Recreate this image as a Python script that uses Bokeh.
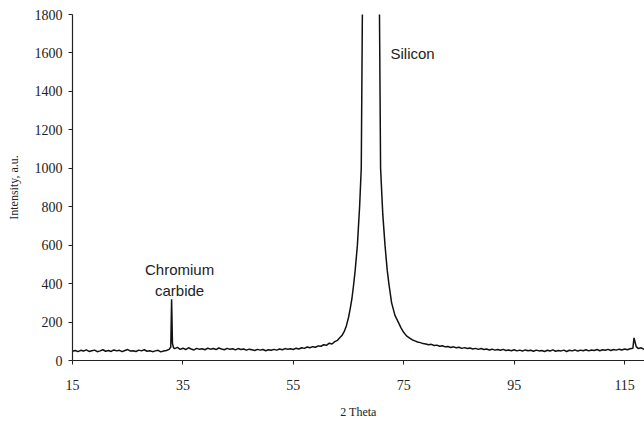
from bokeh.plotting import figure
from bokeh.models import Label, FixedTicker, Range1d
from bokeh.embed import file_html
from bokeh.resources import INLINE

# ---- data ----
two_theta = [
    15.0, 15.5, 16.0, 16.5, 17.0, 17.5, 18.0, 18.5, 19.0, 19.5,
    20.0, 20.5, 21.0, 21.5, 22.0, 22.5, 23.0, 23.5, 24.0, 24.5,
    25.0, 25.5, 26.0, 26.5, 27.0, 27.5, 28.0, 28.5, 29.0, 29.5,
    30.0, 30.5, 31.0, 31.5, 32.0, 32.5,
    32.8, 32.95, 33.1, 33.3,
    33.5, 34.0, 34.5, 35.0, 35.5, 36.0, 36.5, 37.0, 37.5, 38.0,
    38.5, 39.0, 39.5, 40.0, 40.5, 41.0, 41.5, 42.0, 42.5, 43.0,
    43.5, 44.0, 44.5, 45.0, 45.5, 46.0, 46.5, 47.0, 47.5, 48.0,
    48.5, 49.0, 49.5, 50.0, 50.5, 51.0, 51.5, 52.0, 52.5, 53.0,
    53.5, 54.0, 54.5, 55.0, 55.5, 56.0, 56.5, 57.0, 57.5, 58.0,
    58.5, 59.0, 59.5, 60.0, 60.5, 61.0, 61.5, 62.0, 62.5, 63.0,
    63.4, 63.8, 64.2, 64.6, 65.0, 65.3, 65.6, 65.9, 66.2, 66.6,
    67.0, 67.3, 67.5, 67.8, 68.4, 69.0, 69.6, 70.2, 70.6, 70.8,
    71.2, 71.6, 72.0, 72.3, 72.8, 73.4, 74.0, 74.5, 74.9, 75.5,
    76.0, 76.5, 77.0, 77.5, 78.0, 78.5, 79.0, 79.5, 80.0, 80.5,
    81.0, 81.5, 82.0, 82.5, 83.0, 83.5, 84.0, 84.5, 85.0, 85.5,
    86.0, 86.5, 87.0, 87.5, 88.0, 88.5, 89.0, 89.5, 90.0, 90.5,
    91.0, 91.5, 92.0, 92.5, 93.0, 93.5, 94.0, 94.5, 95.0, 95.5,
    96.0, 96.5, 97.0, 97.5, 98.0, 98.5, 99.0, 99.5, 100.0, 100.5,
    101.0, 101.5, 102.0, 102.5, 103.0, 103.5, 104.0, 104.5, 105.0, 105.5,
    106.0, 106.5, 107.0, 107.5, 108.0, 108.5, 109.0, 109.5, 110.0, 110.5,
    111.0, 111.5, 112.0, 112.5, 113.0, 113.5, 114.0, 114.5, 115.0, 115.5,
    116.0, 116.5, 116.7, 116.9, 117.1, 117.5, 118.0, 118.5,
]
intensity = [
    48, 52, 46, 53, 49, 55, 47, 51, 54, 46,
    50, 56, 48, 52, 47, 55, 50, 53, 46, 52,
    57, 49, 51, 47, 54, 50, 56, 48, 51, 46,
    50, 53, 45, 49, 52, 58,
    70, 318, 90, 66,
    62, 68, 58, 64, 57, 66, 60, 55, 63, 58,
    61, 56, 64, 59, 62, 57, 65, 60, 56, 63,
    58, 61, 55, 62, 57, 60, 54, 59, 56, 52,
    58, 54, 57, 51, 56, 53, 58, 54, 60, 56,
    62, 58, 61, 57, 64, 60, 66, 63, 70, 66,
    72, 69, 76, 74, 82, 79, 90, 86, 98, 105,
    118, 130, 150, 180, 225, 270, 320, 390, 470, 600,
    800, 1000, 1800, 4000, 9000, 12000, 9000, 4000, 1800, 1000,
    760, 600, 470, 400, 300, 235, 200, 170, 150, 128,
    118, 108, 102, 96, 93, 88, 86, 82, 84, 78,
    80, 74, 77, 71, 73, 68, 71, 66, 69, 63,
    67, 62, 65, 60, 63, 58, 62, 57, 60, 55,
    59, 54, 57, 53, 58, 52, 55, 51, 56, 50,
    54, 49, 55, 51, 53, 48, 54, 50, 52, 47,
    53, 49, 55, 48, 52, 50, 54, 47, 53, 50,
    55, 49, 54, 51, 56, 50, 55, 52, 57, 51,
    56, 53, 58, 52, 57, 54, 59, 55, 60, 56,
    61, 64, 118, 95, 72, 62, 66, 58,
]
x_ticks = [15, 35, 55, 75, 95, 115]
y_ticks = [0, 200, 400, 600, 800, 1000, 1200, 1400, 1600, 1800]

# annotation anchors (data units)
silicon_pos = (72.6, 1595)
chromium_pos = (34.4, 476)
carbide_pos = (34.4, 363)

p = figure(width=644, height=421, output_backend="svg", toolbar_location=None,
           x_range=Range1d(15, 118.6), y_range=Range1d(0, 1800),
           min_border_left=72, min_border_right=0, min_border_top=14,
           min_border_bottom=40)
p.outline_line_color = None
p.grid.visible = False
p.background_fill_color = "white"
p.border_fill_color = "white"

p.line(two_theta, intensity, line_color="#111111", line_width=1.5)

serif = "Liberation Serif"
for ax in (p.xaxis[0], p.yaxis[0]):
    ax.axis_line_color = "#222222"
    ax.axis_line_width = 1.2
    ax.major_tick_line_color = "#222222"
    ax.major_tick_in = 0
    ax.major_tick_out = 4
    ax.minor_tick_line_color = None
    ax.major_label_text_font = serif
    ax.major_label_text_font_size = "14px"
    ax.major_label_text_color = "#222222"
    ax.axis_label_text_font = serif
    ax.axis_label_text_font_size = "12px"
    ax.axis_label_text_font_style = "normal"
    ax.axis_label_text_color = "#222222"

p.xaxis.ticker = FixedTicker(ticks=x_ticks)
p.yaxis.ticker = FixedTicker(ticks=y_ticks)
p.xaxis.axis_label = "2 Theta"
p.yaxis.axis_label = "Intensity, a.u."
p.xaxis.major_label_standoff = 15
p.xaxis.axis_label_standoff = 12
p.yaxis.major_label_standoff = 6
p.yaxis.axis_label_standoff = 11

sans = "Liberation Sans"
p.add_layout(Label(x=silicon_pos[0], y=silicon_pos[1], text="Silicon",
                   text_font=sans, text_font_size="15px", text_color="#222222",
                   text_baseline="middle", text_align="left"))
p.add_layout(Label(x=chromium_pos[0], y=chromium_pos[1], text="Chromium",
                   text_font=sans, text_font_size="15px", text_color="#222222",
                   text_baseline="middle", text_align="center"))
p.add_layout(Label(x=carbide_pos[0], y=carbide_pos[1], text="carbide",
                   text_font=sans, text_font_size="15px", text_color="#222222",
                   text_baseline="middle", text_align="center"))

open("out.html", "w").write(file_html(p, INLINE))
